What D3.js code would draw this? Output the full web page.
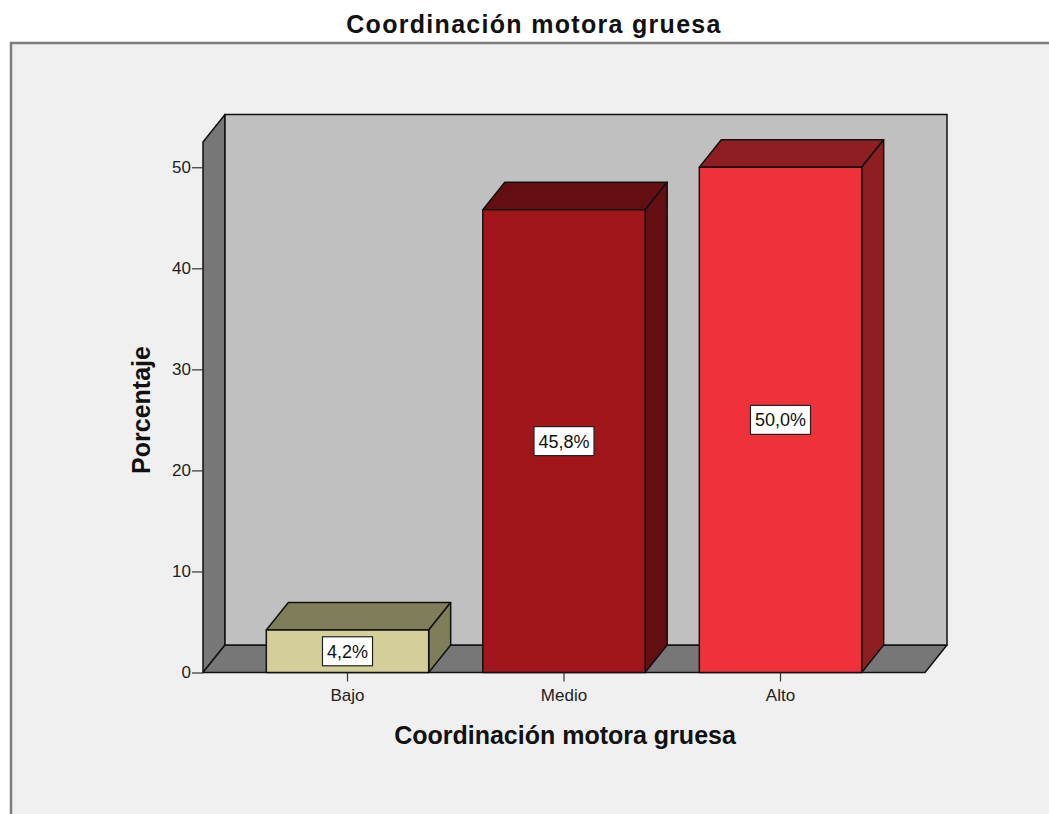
<!DOCTYPE html>
<html>
<head>
<meta charset="utf-8">
<script src="https://cdn.jsdelivr.net/npm/d3@7"></script>
<style>
  body { margin: 0; background: #ffffff; }
  text { font-family: "Liberation Sans", Arial, sans-serif; }
</style>
</head>
<body>
<script>
// Data
const categories = ["Bajo", "Medio", "Alto"];
const percentages = [4.2, 45.8, 50.0];
const valueLabels = ["4,2%", "45,8%", "50,0%"];
const yTicks = [0, 10, 20, 30, 40, 50];

const W = 1049, H = 814;
// front plane of the 3D box
const plotLeft = 203, plotRight = 925, plotBottom = 672.5, plotTop = 142;
const dx = 22, dy = -27.5; // depth offset

const svg = d3.select("body")
              .append("svg")
              .attr("width", W)
              .attr("height", H);

// Outer frame
svg.append("rect")
   .attr("x", 11)
   .attr("y", 43)
   .attr("width", 1200)
   .attr("height", 1000)
   .attr("fill", "#f0f0f0")
   .attr("stroke", "#7d7d7d")
   .attr("stroke-width", 2.5);

// Scales
const x = d3.scaleBand()
            .domain(categories)
            .range([plotLeft, plotRight])
            .paddingInner(0.25)
            .paddingOuter(0.2925);

const y = d3.scaleLinear()
            .domain([0, 52.5])
            .range([plotBottom, plotTop]);

const frontColor = d3.scaleOrdinal().domain(categories).range(["#d4cf99", "#a0161b", "#ef323a"]);
const sideColor = d3.scaleOrdinal().domain(categories).range(["#807d5a", "#630e11", "#8e1e22"]);

const pts = p => p.map(q => q.join(",")).join(" ");
function poly(points, fill) {
    return svg.append("polygon")
              .attr("points", pts(points))
              .attr("fill", fill)
              .attr("stroke", "#111")
              .attr("stroke-width", 1.5)
              .attr("stroke-linejoin", "round");
}

// Walls and floor
poly([[plotLeft, y(0)], [plotLeft + dx, y(0) + dy], [plotLeft + dx, y(52.5) + dy], [plotLeft, y(52.5)]], "#777777");
poly([[plotLeft, y(0)], [plotLeft + dx, y(0) + dy], [plotRight + dx, y(0) + dy], [plotRight, y(0)]], "#777777");
svg.append("rect")
   .attr("x", plotLeft + dx)
   .attr("y", y(52.5) + dy)
   .attr("width", plotRight - plotLeft)
   .attr("height", y(0) - y(52.5))
   .attr("fill", "#c0c0c0")
   .attr("stroke", "#111")
   .attr("stroke-width", 1.5);

// Bars
const bars = categories.map((c, i) => ({ cat: c, value: percentages[i], label: valueLabels[i] }));

bars.forEach(d => {
    const x0 = x(d.cat), x1 = x0 + x.bandwidth();
    const yt = y(d.value), yb = y(0);
    // top
    poly([[x0, yt], [x0 + dx, yt + dy], [x1 + dx, yt + dy], [x1, yt]], sideColor(d.cat));
    // right side
    poly([[x1, yt], [x1 + dx, yt + dy], [x1 + dx, yb + dy], [x1, yb]], sideColor(d.cat));
    // front
    poly([[x0, yt], [x1, yt], [x1, yb], [x0, yb]], frontColor(d.cat));
});

// Value labels
const lab = svg.selectAll(".value-label")
               .data(bars)
               .enter()
               .append("g")
               .attr("class", "value-label")
               .attr("transform", d => `translate(${x(d.cat) + x.bandwidth() / 2},${(y(d.value) + y(0)) / 2})`);

lab.append("text")
   .attr("text-anchor", "middle")
   .attr("dy", "0.36em")
   .style("font-size", "18px")
   .attr("fill", "#111")
   .text(d => d.label)
   .each(function() {
       const b = this.getBBox();
       d3.select(this.parentNode).insert("rect", "text")
         .attr("x", b.x - 4.5)
         .attr("y", -14.5)
         .attr("width", b.width + 9)
         .attr("height", 29)
         .attr("fill", "#ffffff")
         .attr("stroke", "#222")
         .attr("stroke-width", 1.2);
   });

// Axes
const yAxis = svg.append("g")
   .attr("transform", `translate(${plotLeft},0)`)
   .call(d3.axisLeft(y).tickValues(yTicks).tickSize(11).tickPadding(1));
yAxis.select(".domain").remove();
yAxis.selectAll("line").attr("stroke", "#333").attr("stroke-width", 1.2);
yAxis.selectAll("text").style("font-size", "17px").attr("fill", "#222")
     .style("font-family", "'Liberation Sans', Arial, sans-serif");

const xAxis = svg.append("g")
   .attr("transform", `translate(0,${plotBottom})`)
   .call(d3.axisBottom(x).tickSize(9).tickPadding(7));
xAxis.select(".domain").remove();
xAxis.selectAll("line").attr("stroke", "#333").attr("stroke-width", 1.2);
xAxis.selectAll("text").style("font-size", "17px").attr("fill", "#222")
     .style("font-family", "'Liberation Sans', Arial, sans-serif");

// Titles
svg.append("text")
   .attr("x", 534)
   .attr("y", 33)
   .attr("text-anchor", "middle")
   .style("font-size", "25px")
   .style("font-weight", "bold")
   .style("letter-spacing", "1.3px")
   .attr("fill", "#111")
   .text("Coordinación motora gruesa");

svg.append("text")
   .attr("x", 565)
   .attr("y", 744)
   .attr("text-anchor", "middle")
   .style("font-size", "25px")
   .style("font-weight", "bold")
   .attr("fill", "#111")
   .text("Coordinación motora gruesa");

svg.append("text")
   .attr("transform", "translate(150,410) rotate(-90)")
   .attr("text-anchor", "middle")
   .style("font-size", "25px")
   .style("font-weight", "bold")
   .attr("fill", "#111")
   .text("Porcentaje");
</script>
</body>
</html>
